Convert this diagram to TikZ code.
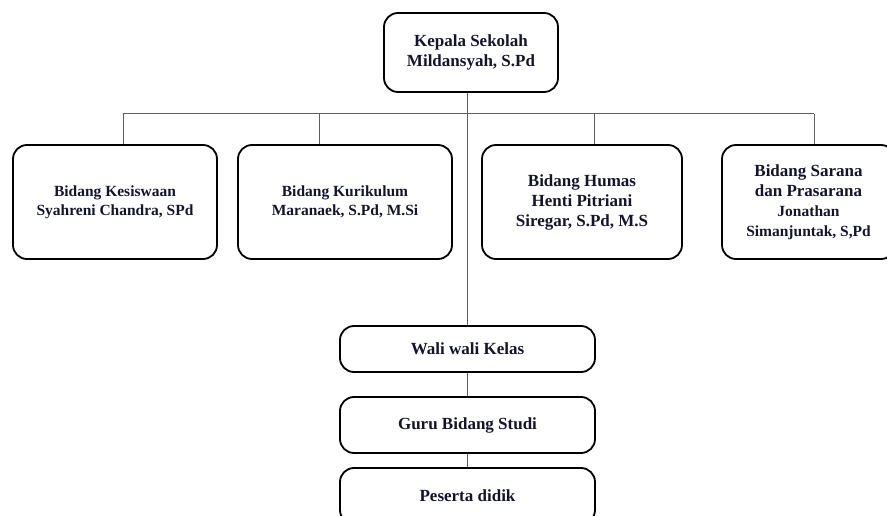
\documentclass[tikz,border=0pt]{standalone}
\usepackage{fontspec}
\setmainfont{Liberation Serif}
\definecolor{ink}{RGB}{20,20,45}
\definecolor{wiregray}{RGB}{95,95,95}

\begin{document}
\begin{tikzpicture}[x=1pt,y=-1pt,
  unit/.style={draw=black,line width=1.8pt,rounded corners=14pt,align=center,
    text=ink,inner sep=0pt,font=\bfseries\fontsize{17}{20}\selectfont},
  smallunit/.style={unit,font=\bfseries\fontsize{15.5}{19}\selectfont},
  wire/.style={draw=wiregray,line width=1pt}]
  \clip (0,0) rectangle (887,516);
  % kepala sekolah
  \node[unit,minimum width=174pt,minimum height=79pt] (kepsek) at (471,52.5) {Kepala Sekolah\\Mildansyah, S.Pd};
  % bidang
  \node[smallunit,minimum width=204pt,minimum height=114pt] (kesiswaan) at (115,202) {Bidang Kesiswaan\\Syahreni Chandra, SPd};
  \node[smallunit,minimum width=214pt,minimum height=114pt] (kurikulum) at (345,202) {Bidang Kurikulum\\Maranaek, S.Pd, M.Si};
  \node[unit,minimum width=200pt,minimum height=114pt] (humas) at (582,202) {Bidang Humas\\Henti Pitriani\\Siregar, S.Pd, M.S};
  \node[unit,minimum width=173pt,minimum height=114pt] (sarana) at (808.5,202) {Bidang Sarana\\dan Prasarana\\{\fontsize{15.5}{20}\selectfont Jonathan}\\{\fontsize{15.5}{20}\selectfont Simanjuntak, S,Pd}};
  % jalur ke bawah
  \node[unit,minimum width=255pt,minimum height=46pt] (wali) at (467.5,349) {Wali wali Kelas};
  \node[unit,minimum width=255pt,minimum height=56pt] (guru) at (467.5,425) {Guru Bidang Studi};
  \node[unit,minimum width=255pt,minimum height=56pt] (peserta) at (467.5,496) {Peserta didik};

  \coordinate (d1) at (123,114);
  \coordinate (d2) at (319,114);
  \coordinate (d3) at (594,114);
  \coordinate (d4) at (814,114);
  \draw[wire] (d1) -- (d4);
  \draw[wire] (d1) -- (d1 |- kesiswaan.north);
  \draw[wire] (d2) -- (d2 |- kurikulum.north);
  \draw[wire] (d3) -- (d3 |- humas.north);
  \draw[wire] (d4) -- (d4 |- sarana.north);
  \draw[wire] (wali.north |- kepsek.south) -- (wali.north);
  \draw[wire] (wali) -- (guru);
  \draw[wire] (guru) -- (peserta);
\end{tikzpicture}
\end{document}
